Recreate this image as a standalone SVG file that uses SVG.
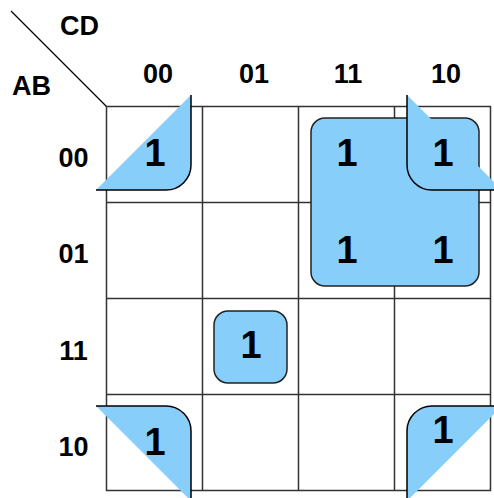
<svg xmlns="http://www.w3.org/2000/svg" width="494" height="498" viewBox="0 0 494 498">
<style>
.grid{stroke:#333;stroke-width:1.5;fill:none}
.fill{fill:#87CEFA;stroke:none}
.edge{fill:none;stroke:#000;stroke-width:1.5}
.box{fill:#87CEFA;stroke:#222;stroke-width:1.5}
.lbl{font-family:"Liberation Sans",Arial,sans-serif;font-weight:bold;font-size:27px;fill:#000}
.one{font-family:"Liberation Sans",Arial,sans-serif;font-weight:bold;font-size:38px;fill:#000;text-anchor:middle}
</style>
<rect width="494" height="498" fill="#fff"/>
<g id="grid">
<line class="grid" x1="11" y1="11" x2="106.5" y2="106.5" style="stroke:#000;stroke-width:1.2"/>
<path class="grid" d="M106.5,106.5H490.5V490.5H106.5Z M202.5,106.5V490.5 M298.5,106.5V490.5 M394.5,106.5V490.5 M106.5,202.5H490.5 M106.5,298.5H490.5 M106.5,394.5H490.5"/>
</g>
<g id="labels">
<text class="lbl" x="60" y="35">CD</text>
<text class="lbl" x="12" y="95">AB</text>
<text class="lbl" x="158" y="83" text-anchor="middle">00</text>
<text class="lbl" x="254" y="83" text-anchor="middle">01</text>
<text class="lbl" x="348" y="83" text-anchor="middle">11</text>
<text class="lbl" x="446" y="83" text-anchor="middle">10</text>
<text class="lbl" x="73.5" y="167" text-anchor="middle">00</text>
<text class="lbl" x="73.5" y="263" text-anchor="middle">01</text>
<text class="lbl" x="73.5" y="360" text-anchor="middle">11</text>
<text class="lbl" x="73.5" y="456" text-anchor="middle">10</text>
</g>
<g id="group-quad">
<rect class="box" x="311" y="118" width="168" height="168" rx="14"/>
</g>
<g id="group-single">
<rect class="box" x="214" y="311" width="73" height="72" rx="14"/>
</g>
<g id="group-corners">
<path class="fill" d="M191,95V165A25,25 0 0 1 166,190H96Z"/>
<path class="edge" d="M191,95V165A25,25 0 0 1 166,190H96"/>
<path class="fill" d="M407,95L502,190H432A25,25 0 0 1 407,165Z"/>
<path class="edge" d="M407,95V165A25,25 0 0 0 432,190H502"/>
<path class="fill" d="M96,406H166A25,25 0 0 1 191,431V501Z"/>
<path class="edge" d="M96,406H166A25,25 0 0 1 191,431V501"/>
<path class="fill" d="M502,406H432A25,25 0 0 0 407,431V501Z"/>
<path class="edge" d="M502,406H432A25,25 0 0 0 407,431V501"/>
</g>
<g id="ones">
<text class="one" x="155" y="166">1</text>
<text class="one" x="347" y="166">1</text>
<text class="one" x="443" y="166">1</text>
<text class="one" x="347" y="263">1</text>
<text class="one" x="443" y="263">1</text>
<text class="one" x="251" y="358">1</text>
<text class="one" x="155" y="455">1</text>
<text class="one" x="443" y="443">1</text>
</g>
</svg>
